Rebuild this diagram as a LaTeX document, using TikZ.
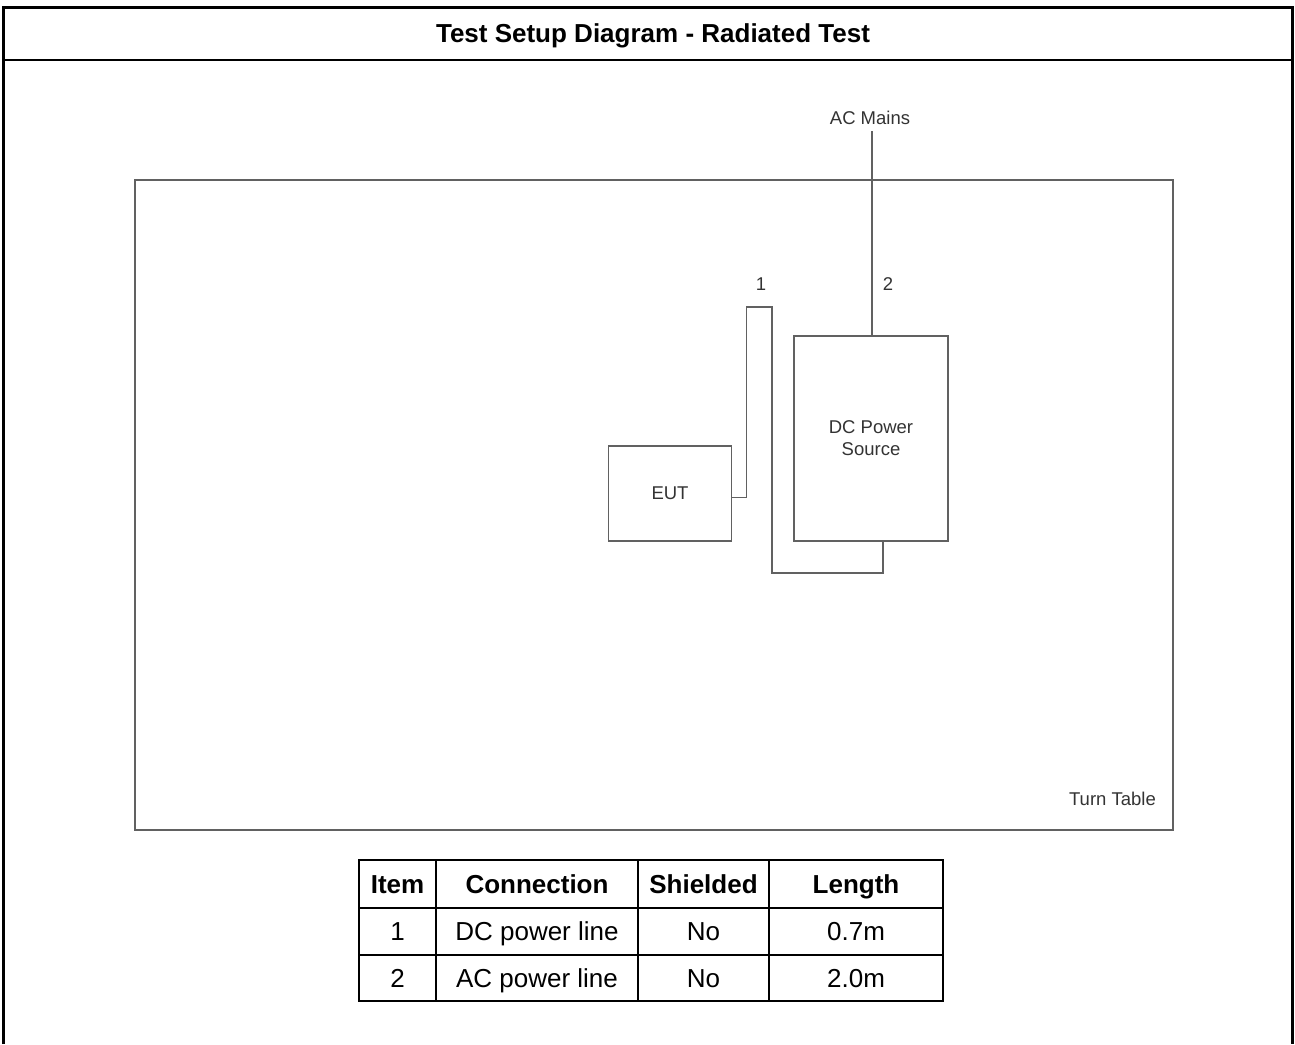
\documentclass[tikz,border=0pt]{standalone}
\usepackage{fontspec}
\setmainfont{Liberation Sans}
\usetikzlibrary{positioning}

\begin{document}
\begin{tikzpicture}[x=1pt,y=-1pt,
  frame/.style={draw=black, line width=3pt},
  unit/.style={rectangle, draw=black!62, line width=1.3pt, align=center, inner sep=0pt, text=black!80, font=\fontsize{18.5}{22}\selectfont},
  cable/.style={draw=black!62, line width=1.3pt},
  tag/.style={text=black!80, font=\fontsize{18.5}{22}\selectfont, inner sep=0pt},
  cell/.style={anchor=base, inner sep=0pt, font=\fontsize{26}{30}\selectfont},
  head/.style={cell, font=\fontsize{26}{30}\selectfont\bfseries},
  grid/.style={draw=black, line width=2.5pt}]

\useasboundingbox (0,0) rectangle (1295,1044);

% outer frame, open at the bottom
\draw[frame] (3,1044) -- (3,7) -- (1292,7) -- (1292,1044);
\draw[draw=black, line width=2.5pt] (3,60) -- (1292,60);
\node[font=\fontsize{26}{30}\selectfont\bfseries, anchor=base] (title) at (653,42) {Test Setup Diagram - Radiated Test};

% turn table and units
\node[unit, minimum width=1038pt, minimum height=650pt] (table) at (654,505) {};
\node[tag, anchor=base east] (tablelabel) at (1156,805) {Turn Table};
\node[unit, minimum width=123pt, minimum height=95pt] (eut) at (670,493.5) {EUT};
\node[unit, minimum width=154pt, minimum height=205pt] (dc) at (871,438.5) {DC Power\\Source};

% cables
\node[tag, anchor=base] (mains) at (870,124) {AC Mains};
\coordinate (ac) at (872,131);
\draw[cable] (ac) -- (ac |- dc.north);
\draw[cable] ([yshift=-4pt]eut.east) -- ++(14,0) |- (772,307) -- (772,573) -| ([xshift=12pt]dc.south);
\node[tag, anchor=base] (one) at (761,290) {1};
\node[tag, anchor=base] (two) at (888,290) {2};

% connection table
\draw[grid] (359,860) rectangle (943,1001);
\draw[grid] (359,908) -- (943,908);
\draw[grid] (359,955) -- (943,955);
\foreach \x in {436,638,769}
  \draw[grid] (\x,860) -- (\x,1001);

\foreach \name/\x/\txt in {item/397.5/Item, conn/537/Connection, shield/703.5/Shielded, len/856/Length}
  \node[head] (h-\name) at (\x,893) {\txt};

\foreach \r/\y/\c/\l in {1/940.5/DC power line/0.7m, 2/987/AC power line/2.0m} {
  \node[cell] (item-\r) at (397.5,\y) {\r};
  \node[cell] (conn-\r) at (537,\y) {\c};
  \node[cell] (shield-\r) at (703.5,\y) {No};
  \node[cell] (len-\r) at (856,\y) {\l};
}

\end{tikzpicture}
\end{document}
